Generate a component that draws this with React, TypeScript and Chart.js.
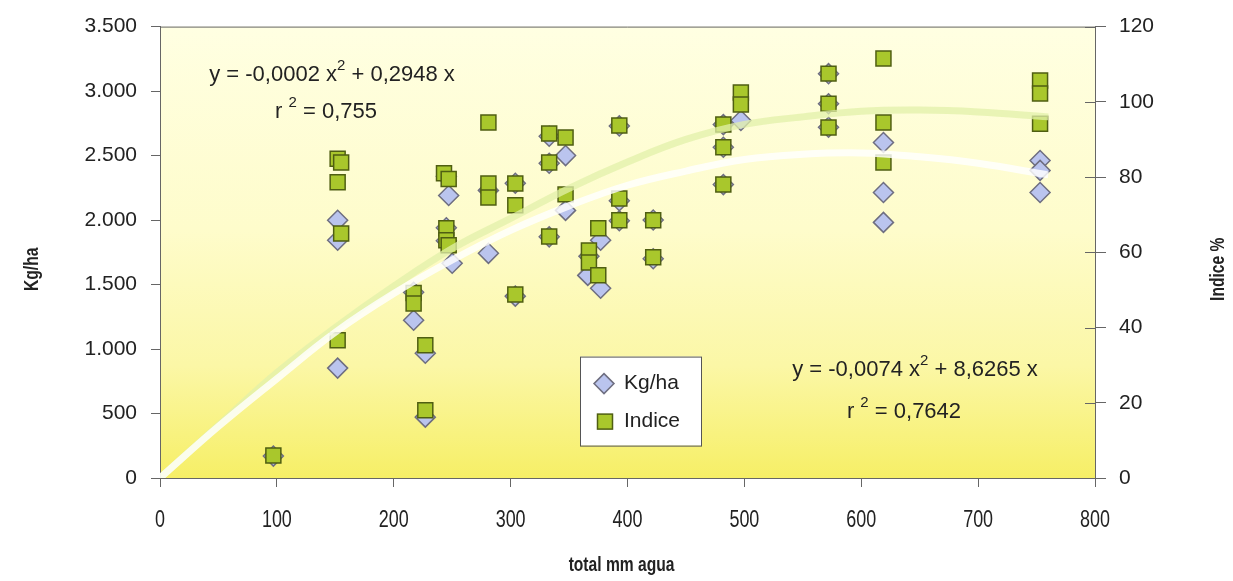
import React, { useEffect, useRef } from "react";
import { Chart, registerables } from "chart.js";

Chart.register(...registerables);

// ---- data ----
const xTicks = [0, 100, 200, 300, 400, 500, 600, 700, 800];
const kgX = [97, 152, 152, 152, 217, 217, 227, 227, 245, 247, 245, 245, 250, 281, 281, 304, 304, 333, 333, 333, 347, 347, 367, 366, 377, 377, 393, 393, 393, 422, 422, 482, 482, 482, 497, 572, 572, 572, 619, 619, 619, 753, 753, 753];
const kgY = [170, 1998, 1843, 852, 1440, 1223, 968, 472, 2340, 2190, 1940, 1840, 1665, 2230, 1742, 2285, 1410, 2650, 2440, 1870, 2500, 2075, 1720, 1571, 1843, 1471, 2730, 2150, 1995, 2000, 1700, 2740, 2565, 2275, 2772, 3135, 2902, 2720, 2601, 2214, 1982, 2462, 2385, 2214];
const indX = [97, 152, 155, 152, 155, 152, 217, 217, 227, 227, 243, 247, 245, 245, 247, 281, 281, 281, 304, 304, 304, 333, 333, 333, 347, 347, 375, 367, 367, 375, 393, 393, 393, 422, 422, 482, 482, 482, 497, 497, 572, 572, 572, 619, 619, 619, 753, 753, 753];
const indY = [6, 84.9, 83.9, 78.6, 65.0, 36.6, 49.2, 46.4, 35.3, 18.0, 81.0, 79.5, 66.4, 63.2, 61.9, 94.5, 78.3, 74.6, 78.3, 72.5, 48.8, 91.6, 83.9, 64.2, 90.5, 75.4, 66.4, 60.5, 57.3, 53.9, 93.7, 74.3, 68.5, 68.5, 58.7, 94.0, 87.9, 78.0, 102.5, 99.3, 107.5, 99.5, 93.2, 111.5, 94.5, 83.9, 105.7, 102.2, 94.2];
// trend curves
const trendX = [0, 50, 100, 150, 200, 250, 300, 350, 400, 450, 500, 550, 600, 650, 700, 760];
const kgTrend = [0, 400, 770, 1130, 1430, 1690, 1920, 2110, 2270, 2380, 2470, 2510, 2520, 2490, 2440, 2350];
const indTrend = [0, 14, 28, 40, 51, 61, 69, 77, 84, 90, 94, 96, 97.5, 97.8, 97.3, 96];

const eqIndice = [{ t: "y = -0,0002 x" }, { t: "2", sup: true }, { t: " + 0,2948 x" }];
const r2Indice = [{ t: "r " }, { t: "2", sup: true }, { t: " = 0,755" }];
const eqKg = [{ t: "y = -0,0074 x" }, { t: "2", sup: true }, { t: " + 8,6265 x" }];
const r2Kg = [{ t: "r " }, { t: "2", sup: true }, { t: " = 0,7642" }];

const FONT = "'Liberation Sans', Arial, sans-serif";
const TEXT = "#222222";
const AXIS = "#666666";
const KG_FILL = "#BAC4EE";
const KG_BORDER = "#6E6E80";
const IND_FILL = "#A9C72C";
const IND_BORDER = "#4F5E12";
const CONDENSE = 0.78;

function pts(xs: number[], ys: number[]) {
  return xs.map((x, i) => ({ x, y: ys[i] }));
}

function drawParts(ctx: CanvasRenderingContext2D, parts: any[], cx: number, cy: number, size: number) {
  const supSize = Math.round(size * 0.68);
  let w = 0;
  for (const p of parts) {
    ctx.font = `${p.sup ? supSize : size}px ${FONT}`;
    w += ctx.measureText(p.t).width;
  }
  let x = cx - w / 2;
  ctx.textAlign = "left";
  ctx.textBaseline = "middle";
  ctx.fillStyle = TEXT;
  for (const p of parts) {
    ctx.font = `${p.sup ? supSize : size}px ${FONT}`;
    ctx.fillText(p.t, x, p.sup ? cy - size * 0.4 : cy);
    x += ctx.measureText(p.t).width;
  }
}

function condensedText(ctx: CanvasRenderingContext2D, text: string, x: number, y: number, rot: number) {
  ctx.save();
  ctx.translate(x, y);
  ctx.rotate(rot);
  ctx.scale(CONDENSE, 1);
  ctx.fillText(text, 0, 0);
  ctx.restore();
}

const decor = {
  id: "decor",
  beforeDraw(chart: any) {
    const { ctx, chartArea: ca } = chart;
    ctx.save();
    const g = ctx.createLinearGradient(0, ca.top, 0, ca.bottom);
    g.addColorStop(0, "#FFFFE2");
    g.addColorStop(0.45, "#FEFCCB");
    g.addColorStop(0.75, "#FBF7A6");
    g.addColorStop(1, "#F6EF66");
    ctx.fillStyle = g;
    ctx.fillRect(ca.left, ca.top, ca.right - ca.left, ca.bottom - ca.top);
    ctx.restore();
  },
  afterDraw(chart: any) {
    const { ctx, chartArea: ca } = chart;
    ctx.save();
    // top frame line
    ctx.strokeStyle = AXIS;
    ctx.lineWidth = 1;
    ctx.beginPath();
    ctx.moveTo(ca.left, ca.top + 0.5);
    ctx.lineTo(ca.right, ca.top + 0.5);
    ctx.stroke();
    // inner half of right-axis ticks
    const y1 = chart.scales.y1;
    y1.ticks.forEach((t: any) => {
      const py = Math.round(y1.getPixelForValue(t.value)) + 0.5;
      ctx.beginPath();
      ctx.moveTo(ca.right - 10, py);
      ctx.lineTo(ca.right, py);
      ctx.stroke();
    });

    // x tick labels (condensed face)
    const xs = chart.scales.x;
    ctx.fillStyle = TEXT;
    ctx.font = `23px ${FONT}`;
    ctx.textAlign = "center";
    ctx.textBaseline = "middle";
    xs.ticks.forEach((t: any) => {
      condensedText(ctx, String(t.value), xs.getPixelForValue(t.value), 521, 0);
    });

    // axis titles
    ctx.font = `bold 20px ${FONT}`;
    const midY = (ca.top + ca.bottom) / 2 + 17;
    condensedText(ctx, "Kg/ha", 32, midY, -Math.PI / 2);
    condensedText(ctx, "Indice %", 1218, midY, -Math.PI / 2);
    condensedText(ctx, "total mm agua", (ca.left + ca.right) / 2 - 6, 565, 0);

    // equations
    drawParts(ctx, eqIndice, ca.left + 172, ca.top + 48, 22);
    drawParts(ctx, r2Indice, ca.left + 166, ca.top + 85, 22);
    drawParts(ctx, eqKg, ca.left + 755, ca.top + 343, 22);
    drawParts(ctx, r2Kg, ca.left + 744, ca.top + 385, 22);

    // legend
    const lx = ca.left + 420, ly = ca.top + 330, lw = 121, lh = 89;
    ctx.fillStyle = "#FFFFFF";
    ctx.fillRect(lx, ly, lw, lh);
    ctx.strokeStyle = "#555555";
    ctx.lineWidth = 1;
    ctx.strokeRect(lx + 0.5, ly + 0.5, lw, lh);
    const dx = lx + 24, dy = ly + 27;
    ctx.beginPath();
    ctx.moveTo(dx, dy - 10);
    ctx.lineTo(dx + 10, dy);
    ctx.lineTo(dx, dy + 10);
    ctx.lineTo(dx - 10, dy);
    ctx.closePath();
    ctx.fillStyle = KG_FILL;
    ctx.fill();
    ctx.strokeStyle = KG_BORDER;
    ctx.lineWidth = 1.5;
    ctx.stroke();
    const sx = lx + 25, sy = ly + 65;
    ctx.fillStyle = IND_FILL;
    ctx.fillRect(sx - 7.5, sy - 7.5, 15, 15);
    ctx.strokeStyle = IND_BORDER;
    ctx.strokeRect(sx - 7.5, sy - 7.5, 15, 15);
    ctx.fillStyle = TEXT;
    ctx.font = `21px ${FONT}`;
    ctx.textAlign = "left";
    ctx.textBaseline = "middle";
    ctx.fillText("Kg/ha", lx + 44, dy);
    ctx.fillText("Indice", lx + 44, sy);
    ctx.restore();
  },
};

export default function App() {
  const ref = useRef<HTMLCanvasElement>(null);
  useEffect(() => {
    document.body.style.margin = "0";
    const c = new Chart(ref.current!, {
      type: "scatter",
      data: {
        datasets: [
          {
            label: "trendKg",
            data: pts(trendX, kgTrend),
            yAxisID: "y",
            showLine: true,
            pointRadius: 0,
            borderColor: "rgba(255,255,255,0.82)",
            borderWidth: 7,
            tension: 0.4,
            order: 0,
          } as any,
          {
            label: "trendInd",
            data: pts(trendX, indTrend),
            yAxisID: "y1",
            showLine: true,
            pointRadius: 0,
            borderColor: "rgba(226,240,170,0.75)",
            borderWidth: 7,
            tension: 0.4,
            order: 0,
          } as any,
          {
            label: "Indice",
            data: pts(indX, indY),
            yAxisID: "y1",
            pointStyle: "rect",
            pointRadius: 10.6,
            pointBackgroundColor: IND_FILL,
            pointBorderColor: IND_BORDER,
            pointBorderWidth: 1.5,
            order: 1,
          } as any,
          {
            label: "Kg/ha",
            data: pts(kgX, kgY),
            yAxisID: "y",
            pointStyle: "rectRot",
            pointRadius: 10,
            pointBackgroundColor: KG_FILL,
            pointBorderColor: KG_BORDER,
            pointBorderWidth: 1.5,
            order: 2,
          } as any,
        ],
      },
      options: {
        animation: false,
        responsive: true,
        maintainAspectRatio: false,
        layout: { padding: { top: 25, left: 0, right: 0, bottom: 0 } },
        plugins: { legend: { display: false }, tooltip: { enabled: false } },
        scales: {
          x: {
            type: "linear",
            min: 0,
            max: 800,
            afterFit: (s: any) => { s.height = 103; },
            afterBuildTicks: (s: any) => { s.ticks = xTicks.map((v) => ({ value: v })); },
            ticks: { display: false },
            grid: { drawOnChartArea: false, tickLength: 9, color: AXIS },
            border: { color: AXIS, width: 1 },
          },
          y: {
            position: "left",
            min: 0,
            max: 3500,
            afterFit: (s: any) => { s.width = 160; },
            ticks: {
              stepSize: 500,
              color: TEXT,
              font: { family: FONT, size: 21 },
              padding: 14,
              callback: (v: any) => Number(v).toLocaleString("de-DE"),
            },
            grid: { drawOnChartArea: false, tickLength: 9, color: AXIS },
            border: { color: AXIS, width: 1 },
          },
          y1: {
            position: "right",
            min: 0,
            max: 120,
            afterFit: (s: any) => { s.width = 138; },
            ticks: { stepSize: 20, color: TEXT, font: { family: FONT, size: 21 }, padding: 13 },
            grid: { drawOnChartArea: false, tickLength: 11, color: AXIS },
            border: { color: AXIS, width: 1 },
          },
        },
      } as any,
      plugins: [decor],
    });
    return () => c.destroy();
  }, []);
  return (
    <div style={{ width: 1233, height: 581, position: "relative", background: "#fff" }}>
      <canvas ref={ref} />
    </div>
  );
}
